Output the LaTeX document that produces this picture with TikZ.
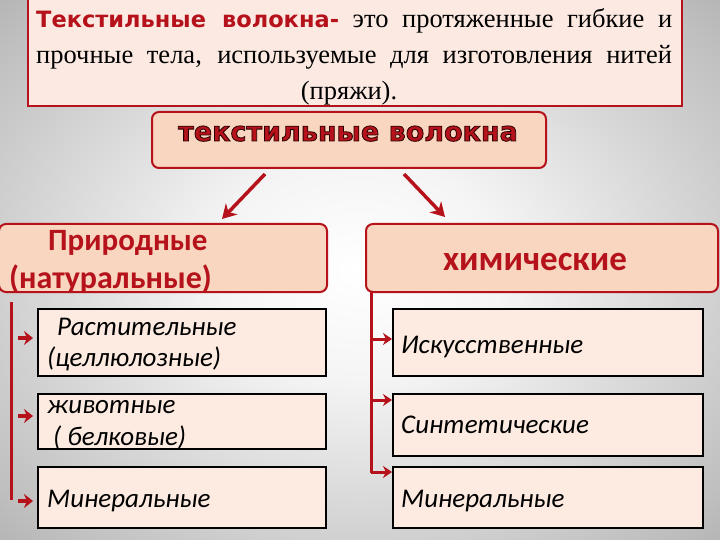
\documentclass[tikz,border=0pt]{standalone}
\usepackage{fontspec}
\setmainfont{Liberation Serif}
\newfontfamily\carl{Carlito}
\newfontfamily\dvs{DejaVu Sans}
\usetikzlibrary{arrows.meta}
\definecolor{dred}{HTML}{B5121B}
\definecolor{peach}{HTML}{F8D6BF}
\definecolor{lpink}{HTML}{FDEAE0}
\definecolor{toppink}{HTML}{FCEAE2}
\pgfdeclareradialshading{bgshade}{\pgfpoint{0bp}{0bp}}{color(0bp)=(white); color(10bp)=(white!96!black); color(32bp)=(white!75!black); color(50bp)=(white!55!black); color(72bp)=(white!45!black)}
\newcommand{\outlinetext}[1]{{\color{dred}\special{pdf:code 2 Tr 0.8 w 0.15 0 0 RG}#1\special{pdf:code 0 Tr}}}
\tikzset{
  redbox/.style={draw=dred, line width=2pt, fill=peach, rounded corners=7pt},
  subbox/.style={draw=black, line width=2pt, fill=lpink},
  subtxt/.style={font=\carl\itshape\fontsize{27}{30}\selectfont, text=black, anchor=base west, inner sep=0pt},
  redtxt/.style={font=\carl\bfseries\fontsize{31}{33}\selectfont, text=dred, anchor=base west, inner sep=0pt},
  deftxt/.style={font=\fontsize{26.5}{30}\selectfont, anchor=base west, inner sep=0pt},
  bigarr/.style={draw=dred, line width=3.5pt, -{Stealth[length=14pt,width=16pt]}},
  smallarr/.style={draw=dred, line width=3pt, -{Stealth[length=9pt,width=12pt]}},
  fatarr/.style={draw=dred, line width=4pt, -{Stealth[length=9pt,width=14pt]}},
  vline/.style={draw=dred, line width=3pt},
}
\begin{document}
\begin{tikzpicture}[x=1pt,y=-1pt]
\useasboundingbox (0,0) rectangle (720,540);
\shade[shading=bgshade] (0,0) rectangle (720,540);
% top definition box
\node[draw=dred, line width=2pt, fill=toppink, minimum width=654pt, minimum height=107pt, inner sep=0pt] (def) at (355,53) {};
\node[deftxt] (d1) at (36,28) {\makebox[636pt][s]{{\dvs\bfseries\fontsize{22.5}{26}\selectfont\color{dred}Текстильные волокна-} это протяженные гибкие и}};
\node[deftxt] (d2) at (36,64) {\makebox[636pt][s]{прочные тела, используемые для изготовления нитей}};
\node[deftxt, anchor=base] (d3) at (349,100) {(пряжи).};
% main box
\node[redbox, minimum width=394pt, minimum height=56pt] (main) at (349,140) {};
\node[font=\dvs\bfseries\fontsize{27}{30}\selectfont, inner sep=0pt, anchor=base] (maintxt) at (348,141) {\outlinetext{текстильные волокна}};
% category boxes
\node[redbox, minimum width=328pt, minimum height=68pt] (nat) at (163,258) {};
\node[redtxt] (nat1) at (48,251) {Природные};
\node[redtxt, font=\carl\bfseries\fontsize{32}{33}\selectfont] (nat2) at (9,288) {(натуральные)};
\node[redbox, minimum width=352pt, minimum height=68pt] (chem) at (542,258) {};
\node[redtxt, font=\carl\bfseries\fontsize{35}{38}\selectfont, anchor=base] (chemtxt) at (535,270) {химические};
% arrows from main
\coordinate (a1s) at (265,174);
\coordinate (a2s) at (404,174);
\coordinate (a1e) at (222,219);
\coordinate (a2e) at (445,217);
\draw[bigarr] (a1s) -- (a1e);
\draw[bigarr] (a2s) -- (a2e);
% left sub boxes
\node[subbox, minimum width=288pt, minimum height=67pt] (l1) at (182,342.5) {};
\node[subbox, minimum width=288pt, minimum height=55pt] (l2) at (182,421.5) {};
\node[subbox, minimum width=288pt, minimum height=61pt] (l3) at (182,497.5) {};
\node[subtxt] at (57,335) {Растительные};
\node[subtxt] at (47,366) {(целлюлозные)};
\node[subtxt] at (47,413) {животные};
\node[subtxt] at (53,445) {( белковые)};
\node[subtxt] at (47,507) {Минеральные};
% right sub boxes
\node[subbox, minimum width=310pt, minimum height=67pt] (r1) at (548,342.5) {};
\node[subbox, minimum width=310pt, minimum height=62pt] (r2) at (548,425) {};
\node[subbox, minimum width=310pt, minimum height=61pt] (r3) at (548,497.5) {};
\node[subtxt] at (401,353) {Искусственные};
\node[subtxt] at (401,433) {Синтетические};
\node[subtxt] at (401,507) {Минеральные};
% left connectors
\coordinate (lt) at (11,302);
\coordinate (lb) at (11,500);
\draw[vline] (lt) -- (lb);
\draw[fatarr] (18,338) -- ([xshift=-4pt]l1.west |- 0,338);
\draw[fatarr] (18,416) -- ([xshift=-4pt]l2.west |- 0,416);
\draw[fatarr] (18,501) -- ([xshift=-4pt]l3.west |- 0,501);
% right connectors
\coordinate (rt) at (371,291);
\coordinate (rb) at (371,473);
\draw[vline] (rt) -- (rb);
\draw[smallarr] (rt |- 0,339) -- (r1.west |- 0,339);
\draw[smallarr] (rt |- 0,400) -- (r2.west |- 0,400);
\draw[smallarr] (rt |- 0,472) -- (r3.west |- 0,472);
\end{tikzpicture}
\end{document}
